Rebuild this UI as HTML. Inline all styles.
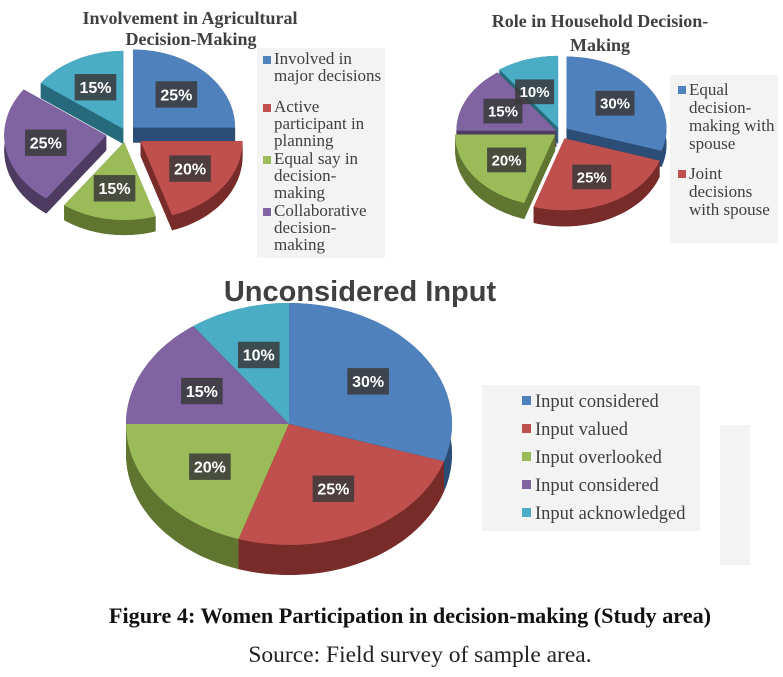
<!DOCTYPE html>
<html><head><meta charset="utf-8"><style>
body{margin:0;background:#fff;width:783px;height:677px;overflow:hidden}
svg{display:block}
</style></head><body>
<svg id="s" width="783" height="677" xmlns="http://www.w3.org/2000/svg" font-family="Liberation Serif, serif">
<rect x="257" y="48" width="128" height="210" fill="#f3f3f3"/>
<rect x="670" y="75" width="108" height="168" fill="#f3f3f3"/>
<rect x="482" y="385" width="218" height="146" fill="#f3f3f3"/>
<rect x="720" y="425" width="30" height="140" fill="#f3f3f3"/>
<g id="pies"></g>
<g fill="#404040" font-weight="bold" font-size="18" text-anchor="middle">
<text x="190" y="24">Involvement in Agricultural</text>
<text x="191" y="45">Decision-Making</text>
<text x="600" y="27">Role in Household Decision-</text>
<text x="600" y="51">Making</text>
</g>
<text x="360" y="301" text-anchor="middle" font-family="Liberation Sans, sans-serif" font-weight="bold" font-size="29" fill="#404040">Unconsidered Input</text>
<g font-size="17" fill="#404040">
<rect x="263" y="56" width="8" height="8" fill="#4f81bd"/><text x="274" y="64">Involved in</text><text x="274" y="81">major decisions</text>
<rect x="263" y="104" width="8" height="8" fill="#c0504d"/><text x="274" y="112">Active</text><text x="274" y="129">participant in</text><text x="274" y="146">planning</text>
<rect x="263" y="156" width="8" height="8" fill="#9bbb59"/><text x="274" y="164">Equal say in</text><text x="274" y="181">decision-</text><text x="274" y="198">making</text>
<rect x="263" y="208" width="8" height="8" fill="#8064a2"/><text x="274" y="216">Collaborative</text><text x="274" y="233">decision-</text><text x="274" y="250">making</text>
<rect x="678" y="86" width="8" height="8" fill="#4f81bd"/><text x="689" y="95">Equal</text><text x="689" y="113">decision-</text><text x="689" y="131">making with</text><text x="689" y="149">spouse</text>
<rect x="678" y="170" width="8" height="8" fill="#c0504d"/><text x="689" y="179">Joint</text><text x="689" y="197">decisions</text><text x="689" y="215">with spouse</text>
</g>
<g font-size="18.5" fill="#404040">
<rect x="522" y="396" width="9" height="9" fill="#4f81bd"/><text x="535" y="407">Input considered</text>
<rect x="522" y="424" width="9" height="9" fill="#c0504d"/><text x="535" y="435">Input valued</text>
<rect x="522" y="452" width="9" height="9" fill="#9bbb59"/><text x="535" y="463">Input overlooked</text>
<rect x="522" y="480" width="9" height="9" fill="#8064a2"/><text x="535" y="491">Input considered</text>
<rect x="522" y="508" width="9" height="9" fill="#4bacc6"/><text x="535" y="519">Input acknowledged</text>
</g>
<text x="410" y="623" text-anchor="middle" font-weight="bold" font-size="22.2" fill="#111">Figure 4:  Women Participation in decision-making (Study area)</text>
<text x="420" y="662" text-anchor="middle" font-size="23.5" fill="#222">Source: Field survey of sample area.</text>
<g id="labels"></g>
</svg>
<script>
var C={b:['#4f81bd','#2c4d75'],r:['#c0504d','#772c2a'],g:['#9bbb59','#5f7530'],p:['#8064a2','#4d3b62'],c:['#4bacc6','#276a7c']};
var NS='http://www.w3.org/2000/svg';
var pies=document.getElementById('pies'),labs=document.getElementById('labels');
function el(t,a,p){var e=document.createElementNS(NS,t);for(var k in a)e.setAttribute(k,a[k]);(p||pies).appendChild(e);return e;}
function pt(cx,cy,rx,ry,a){return [cx+rx*Math.sin(a),cy-ry*Math.cos(a)];}
function arc(cx,cy,rx,ry,a0,a1,dy){var s=[];for(var i=0;i<=30;i++){var a=a0+(a1-a0)*i/30;var p=pt(cx,cy,rx,ry,a);s.push(p[0].toFixed(1)+','+(p[1]+dy).toFixed(1));}return s;}
function pie(cx,cy,rx,ry,h,sl,fs){
 var a=0,items=[];
 sl.forEach(function(s){var a0=a,a1=a+s[0]/100*2*Math.PI;a=a1;var m=(a0+a1)/2;var ex=s[2]||0;
  var ox=ex*Math.sin(m),oy=-ex*ry/rx*Math.cos(m);items.push({a0:a0,a1:a1,m:m,x:cx+ox,y:cy+oy,c:C[s[1]],lab:s[0]+'%',lo:s[3]||[0,0]});});
 items.slice().sort(function(A,B){return -Math.cos(A.m)+Math.cos(B.m);}).forEach(function(it){
  var x=it.x,y=it.y;
  var bot=[x+','+(y+h)].concat(arc(x,y,rx,ry,it.a0,it.a1,h));
  el('polygon',{points:bot.join(' '),fill:it.c[1]});
  [it.a0,it.a1].forEach(function(aa){var p=pt(x,y,rx,ry,aa);el('polygon',{points:[x+','+y,p[0]+','+p[1],p[0]+','+(p[1]+h),x+','+(y+h)].join(' '),fill:it.c[1]});});
  var side=arc(x,y,rx,ry,it.a0,it.a1,0).concat(arc(x,y,rx,ry,it.a1,it.a0,h));
  el('polygon',{points:side.join(' '),fill:it.c[1]});
  var top=[x+','+y].concat(arc(x,y,rx,ry,it.a0,it.a1,0));
  el('polygon',{points:top.join(' '),fill:it.c[0]});
 });
 items.forEach(function(it){var p=pt(it.x,it.y,rx*0.6,ry*0.6,it.m);p[0]+=it.lo[0];p[1]+=it.lo[1];
  var w=fs*2.6,hh=fs*1.65;el('rect',{x:p[0]-w/2,y:p[1]-hh/2,width:w,height:hh,fill:'#3a3a3a','fill-opacity':0.85},labs);
  var t=el('text',{x:p[0],y:p[1]+fs*0.36,'text-anchor':'middle','font-family':'Liberation Sans, sans-serif','font-weight':'bold','font-size':fs,fill:'#fff'},labs);t.textContent=it.lab;});
}
pie(126,133,102,78,15,[[25,'b',10],[20,'r',18],[15,'g',12],[25,'p',20],[15,'c',6]],16);
pie(560,132,100,72,16,[[30,'b',8],[25,'r',10],[20,'g',6],[15,'p',4],[10,'c',6,[-5,5]]],15);
pie(289,424,163,121,30,[[30,'b'],[25,'r'],[20,'g'],[15,'p'],[10,'c']],16);
</script>
</body></html>
